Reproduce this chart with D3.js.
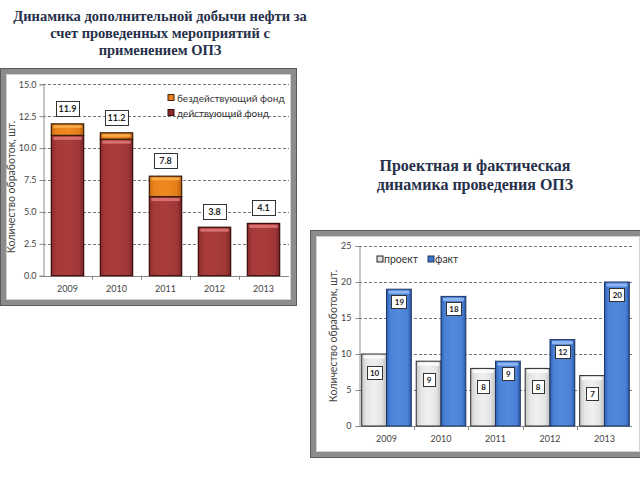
<!DOCTYPE html>
<html><head><meta charset="utf-8">
<script src="https://cdn.jsdelivr.net/npm/d3@7"></script>
<style>body{margin:0;background:#fff}svg{display:block}</style>
</head><body>
<svg id="c" width="640" height="480"></svg>
<script>
// ---- Chart 1 data ----
const years1 = ["2009", "2010", "2011", "2012", "2013"];
const activeFund = [11.0, 10.7, 6.2, 3.8, 4.1];
const idleFund = [0.9, 0.5, 1.6, 0, 0];
const totals1 = [11.9, 11.2, 7.8, 3.8, 4.1];
const yTicks1 = [0, 2.5, 5, 7.5, 10, 12.5, 15];
const legend1 = ["бездействующий фонд", "действующий фонд"];
const title1 = ["Динамика дополнительной добычи нефти за", "счет проведенных мероприятий с", "применением ОПЗ"];
const yTitle = "Количество обработок, шт.";

// ---- Chart 2 data ----
const years2 = ["2009", "2010", "2011", "2012", "2013"];
const project = [10, 9, 8, 8, 7];
const fact = [19, 18, 9, 12, 20];
const yTicks2 = [0, 5, 10, 15, 20, 25];
const legend2 = ["проект", "факт"];
const title2 = ["Проектная и фактическая", "динамика проведения ОПЗ"];

const svg = d3.select("#c");
const defs = svg.append("defs");
const FONT = "Lato, 'Open Sans', sans-serif";
const SERIF = "'Liberation Serif', 'DejaVu Serif', serif";

function hgrad(id, stops) {
  const g = defs.append("linearGradient").attr("id", id).attr("x1", 0).attr("x2", 1).attr("y1", 0).attr("y2", 0);
  stops.forEach(s => g.append("stop").attr("offset", s[0]).attr("stop-color", s[1]));
}
hgrad("gRed", [[0, "#8a2c2c"], [0.15, "#a63939"], [0.5, "#ab3c3c"], [0.85, "#a13737"], [1, "#7a2424"]]);
hgrad("gOrg", [[0, "#c86a10"], [0.15, "#e9821c"], [0.5, "#ef8a20"], [0.85, "#e47e18"], [1, "#b85e0c"]]);
hgrad("gGrey", [[0, "#c9c9c9"], [0.2, "#e6e6e6"], [0.5, "#f0f0f0"], [0.8, "#e4e4e4"], [1, "#bdbdbd"]]);
hgrad("gBlue", [[0, "#2f5fb0"], [0.15, "#4a82d8"], [0.5, "#5289dc"], [0.85, "#4a80d6"], [1, "#2c58a6"]]);

// frames
function frame(x, y, w, h) {
  svg.append("rect").attr("x", x + 0.5).attr("y", y + 0.5).attr("width", w - 1).attr("height", h - 1)
    .attr("fill", "#fff").attr("stroke", "#5a5a5a").attr("stroke-width", 1);
  svg.append("rect").attr("x", x + 3.5).attr("y", y + 3.5).attr("width", w - 7).attr("height", h - 7)
    .attr("fill", "none").attr("stroke", "#8c8c8c").attr("stroke-width", 5);
  svg.append("rect").attr("x", x + 6.5).attr("y", y + 6.5).attr("width", w - 13).attr("height", h - 13)
    .attr("fill", "none").attr("stroke", "#d0d0d0").attr("stroke-width", 1);
}
frame(0, 68, 297, 238);
frame(310, 230, 336, 228);

// titles
svg.append("g").selectAll("text").data(title1).join("text")
  .attr("x", 160).attr("y", (d, i) => 21 + i * 17)
  .attr("text-anchor", "middle").attr("font-family", SERIF).attr("font-weight", "bold")
  .attr("font-size", 14.5).attr("fill", "#26304a").text(d => d);
svg.append("g").selectAll("text").data(title2).join("text")
  .attr("x", 475).attr("y", (d, i) => 171 + i * 19)
  .attr("text-anchor", "middle").attr("font-family", SERIF).attr("font-weight", "bold")
  .attr("font-size", 16).attr("fill", "#26304a").text(d => d);

// ================= Chart 1 =================
const x1 = d3.scaleBand().domain(years1).range([43, 288]).paddingInner(0.34).paddingOuter(0.17);
const y1 = d3.scaleLinear().domain([0, 15]).range([275.7, 84.3]);
const c1 = svg.append("g");

c1.append("g").selectAll("line").data(yTicks1.filter(d => d > 0)).join("line")
  .attr("x1", 43).attr("x2", 289).attr("y1", d => Math.round(y1(d)) + 0.5).attr("y2", d => Math.round(y1(d)) + 0.5)
  .attr("stroke", "#7a7a7a").attr("stroke-dasharray", "3,2");

const ax1 = c1.append("g").attr("transform", "translate(43.5,0)")
  .call(d3.axisLeft(y1).tickValues(yTicks1).tickFormat(d3.format(".1f")).tickSize(4).tickPadding(3));
ax1.select(".domain").attr("stroke", "#8a8a8a");
ax1.selectAll(".tick line").attr("stroke", "#8a8a8a");
ax1.selectAll("text").attr("font-family", FONT).attr("font-size", 9).attr("fill", "#444");

const xa1 = c1.append("g").attr("transform", `translate(0,${Math.round(y1(0)) + 0.5})`)
  .call(d3.axisBottom(x1).tickSize(0).tickPadding(9));
xa1.select(".domain").attr("stroke", "#8a8a8a").attr("d", "M43,0H289");
xa1.selectAll("text").attr("font-family", FONT).attr("font-size", 9).attr("fill", "#444");
c1.append("g").selectAll("line").data(years1.slice(1)).join("line")
  .attr("x1", d => Math.round(x1(d) - x1.step() * x1.paddingInner() / 2) + 0.5)
  .attr("x2", d => Math.round(x1(d) - x1.step() * x1.paddingInner() / 2) + 0.5)
  .attr("y1", y1(0)).attr("y2", y1(0) + 4).attr("stroke", "#8a8a8a");

const bw1 = x1.bandwidth();
years1.forEach((yr, i) => {
  const xx = x1(yr);
  const yTopA = y1(activeFund[i]);
  c1.append("rect").attr("x", xx).attr("y", yTopA).attr("width", bw1).attr("height", y1(0) - yTopA)
    .attr("fill", "url(#gRed)").attr("stroke", "#3a0c0c").attr("stroke-width", 1.2);
  c1.append("rect").attr("x", xx + 2).attr("y", yTopA + 1.5).attr("width", bw1 - 4).attr("height", 3)
    .attr("fill", "#e07a7a").attr("opacity", 0.85);
  if (idleFund[i] > 0) {
    const yTopI = y1(activeFund[i] + idleFund[i]);
    c1.append("rect").attr("x", xx).attr("y", yTopI).attr("width", bw1).attr("height", yTopA - yTopI)
      .attr("fill", "url(#gOrg)").attr("stroke", "#3a1c06").attr("stroke-width", 1.2);
    c1.append("rect").attr("x", xx + 2).attr("y", yTopI + 1.5).attr("width", bw1 - 4).attr("height", 2.5)
      .attr("fill", "#f9b050").attr("opacity", 0.9);
  }
  const ly = y1(totals1[i]) - 8;
  const lbl = d3.format(".1f")(totals1[i]);
  const w = 23, h = 15;
  const cx = xx + bw1 / 2;
  c1.append("rect").attr("x", Math.round(cx - w / 2) + 0.5).attr("y", Math.round(ly - h) + 0.5).attr("width", w).attr("height", h)
    .attr("fill", "#fff").attr("stroke", "#333");
  c1.append("text").attr("x", cx).attr("y", ly - 4).attr("text-anchor", "middle")
    .attr("font-family", FONT).attr("font-weight", "bold").attr("font-size", 9).attr("fill", "#222").text(lbl);
});

const lg1Stroke = ["#4a2408", "#3a0e0e"];
const lg1 = c1.append("g");
legend1.forEach((t, i) => {
  const yy = 98 + i * 15;
  lg1.append("rect").attr("x", 168).attr("y", yy - 3.5).attr("width", 6).attr("height", 6)
    .attr("fill", i === 0 ? "#e8821c" : "#8e2a2a").attr("stroke", lg1Stroke[i]);
  lg1.append("text").attr("x", 177).attr("y", yy + 3.5).attr("font-family", FONT).attr("font-size", 10)
    .attr("fill", "#333").text(t);
});

c1.append("text").attr("transform", "translate(15,187) rotate(-90)").attr("text-anchor", "middle")
  .attr("font-family", FONT).attr("font-size", 10.5).attr("fill", "#444").text(yTitle);

// ================= Chart 2 =================
const x2 = d3.scaleBand().domain(years2).range([359, 632]).paddingInner(0.09).paddingOuter(0.05);
const xs = d3.scaleBand().domain(["p", "f"]).range([0, x2.bandwidth()]);
const y2 = d3.scaleLinear().domain([0, 25]).range([426, 246]);
const c2 = svg.append("g");

c2.append("g").selectAll("line").data(yTicks2.filter(d => d > 0)).join("line")
  .attr("x1", 359).attr("x2", 632).attr("y1", d => Math.round(y2(d)) + 0.5).attr("y2", d => Math.round(y2(d)) + 0.5)
  .attr("stroke", "#7a7a7a").attr("stroke-dasharray", "3,2");

const ax2 = c2.append("g").attr("transform", "translate(359.5,0)")
  .call(d3.axisLeft(y2).tickValues(yTicks2).tickSize(4).tickPadding(4));
ax2.select(".domain").attr("stroke", "#8a8a8a");
ax2.selectAll(".tick line").attr("stroke", "#8a8a8a");
ax2.selectAll("text").attr("font-family", FONT).attr("font-size", 9).attr("fill", "#444");

const xa2 = c2.append("g").attr("transform", `translate(0,${Math.round(y2(0)) + 0.5})`)
  .call(d3.axisBottom(x2).tickSize(0).tickPadding(9));
xa2.select(".domain").attr("stroke", "#8a8a8a").attr("d", "M359,0H632");
xa2.selectAll("text").attr("font-family", FONT).attr("font-size", 9).attr("fill", "#444");
c2.append("g").selectAll("line").data(years2.slice(1)).join("line")
  .attr("x1", d => Math.round(x2(d) - x2.step() * x2.paddingInner() / 2) + 0.5)
  .attr("x2", d => Math.round(x2(d) - x2.step() * x2.paddingInner() / 2) + 0.5)
  .attr("y1", y2(0)).attr("y2", y2(0) + 4).attr("stroke", "#8a8a8a");

const bw2 = xs.bandwidth();
function label2(cx, cy, t) {
  const w = 12 + (t.length - 1) * 3, h = 13;
  c2.append("rect").attr("x", Math.round(cx - w / 2) + 0.5).attr("y", Math.round(cy - h / 2) + 0.5).attr("width", w).attr("height", h)
    .attr("fill", "#fff").attr("stroke", "#333");
  c2.append("text").attr("x", cx + 0.5).attr("y", cy + 3.5).attr("text-anchor", "middle")
    .attr("font-family", FONT).attr("font-weight", "bold").attr("font-size", 8).attr("fill", "#222").text(t);
}
years2.forEach((yr, i) => {
  const xp = x2(yr) + xs("p");
  const xf = x2(yr) + xs("f");
  const yp = y2(project[i]);
  const yf = y2(fact[i]);
  c2.append("rect").attr("x", xp).attr("y", yp).attr("width", bw2).attr("height", y2(0) - yp)
    .attr("fill", "url(#gGrey)").attr("stroke", "#2a2a2a");
  c2.append("rect").attr("x", xp + 2).attr("y", yp + 1.5).attr("width", bw2 - 4).attr("height", 3)
    .attr("fill", "#fafafa");
  c2.append("rect").attr("x", xf).attr("y", yf).attr("width", bw2).attr("height", y2(0) - yf)
    .attr("fill", "url(#gBlue)").attr("stroke", "#1c3564");
  c2.append("rect").attr("x", xf + 2).attr("y", yf + 1.5).attr("width", bw2 - 4).attr("height", 3)
    .attr("fill", "#8db6f0");
  label2(xp + bw2 / 2, yp + 18, String(project[i]));
  label2(xf + bw2 / 2, yf + 12, String(fact[i]));
});

const lg2 = c2.append("g");
const lg2x = [377, 428];
legend2.forEach((t, i) => {
  lg2.append("rect").attr("x", lg2x[i]).attr("y", 256).attr("width", 6).attr("height", 6)
    .attr("fill", i === 0 ? "#e0e0e0" : "#3f76cc").attr("stroke", i === 0 ? "#222" : "#1c3564");
  lg2.append("text").attr("x", lg2x[i] + 7).attr("y", 262.5).attr("font-family", FONT).attr("font-size", 10.5)
    .attr("fill", "#333").text(t);
});

c2.append("text").attr("transform", "translate(337,336) rotate(-90)").attr("text-anchor", "middle")
  .attr("font-family", FONT).attr("font-size", 10.5).attr("fill", "#444").text(yTitle);
</script>
</body></html>
